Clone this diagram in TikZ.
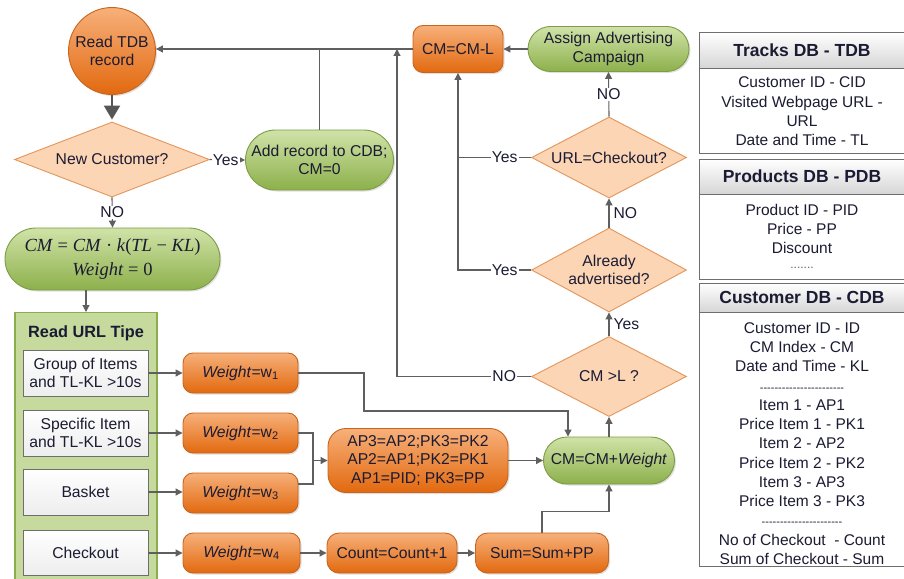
\documentclass[tikz,border=0pt]{standalone}
\usepackage{fontspec}
\setmainfont{Liberation Sans}
\newfontfamily\formulafont{Liberation Serif}
\usetikzlibrary{shapes.geometric,arrows.meta,shadows}

\definecolor{txt}{HTML}{1B1B33}
\definecolor{otop}{HTML}{F7B07A}
\definecolor{obot}{HTML}{E2690F}
\definecolor{oline}{HTML}{C8641C}
\definecolor{gtop}{HTML}{D0E3A8}
\definecolor{gbot}{HTML}{8DB04B}
\definecolor{gline}{HTML}{7C9C45}
\definecolor{dfill}{HTML}{FCD5B5}
\definecolor{dline}{HTML}{E3955A}
\definecolor{wire}{HTML}{5F5F5F}
\definecolor{pane}{HTML}{C6DA9E}
\definecolor{paneline}{HTML}{8AAE4E}
\definecolor{cellline}{HTML}{6E6E6E}
\definecolor{headbot}{HTML}{D6D6D6}

\newcommand\fml{\formulafont\fontsize{18.5}{22}\selectfont}

\tikzset{
  every node/.style={text=txt, font=\fontsize{15.7}{18.5}\selectfont, align=center, inner sep=0pt},
  softshadow/.style={drop shadow={shadow xshift=1.5pt, shadow yshift=-1.5pt, opacity=0.25}},
  proc/.style={draw=oline, line width=0.9pt, top color=otop, bottom color=obot, rounded corners=#1, softshadow},
  proc/.default=10pt,
  term/.style={draw=gline, line width=0.9pt, top color=gtop, bottom color=gbot, rounded corners=#1, softshadow},
  term/.default=22pt,
  decision/.style={diamond, aspect=2, draw=dline, line width=0.9pt, fill=dfill},
  cell/.style={draw=cellline, line width=0.9pt, top color=white, bottom color=black!7},
  tablehead/.style={draw=cellline, line width=0.9pt, top color=white, bottom color=headbot,
                    font=\fontsize{17.5}{21}\selectfont\bfseries},
  tablebody/.style={draw=cellline, line width=0.9pt, fill=white},
  tablerows/.style={font=\fontsize{15.5}{19.25}\selectfont},
  link/.style={draw=wire, line width=1.1pt},
  flow/.style={link, -{Triangle[length=7pt,width=7pt]}},
  bigflow/.style={draw=wire!90!black, line width=2.2pt, -{Triangle[length=14pt,width=16pt]}},
  tag/.style={fill=white, inner sep=1pt},
}

\begin{document}
\begin{tikzpicture}[x=1pt,y=-1pt]
\useasboundingbox (0,0) rectangle (904,578);

% ---------- main loop, left part ----------
\node[proc, circle, minimum size=87pt] (read) at (112,51) {Read TDB\\record};
\node[decision, minimum width=195pt, minimum height=75pt] (newc) at (112,159.5) {New Customer?};
\node[term=30pt, minimum width=148pt, minimum height=60pt] (add) at (319.5,160) {Add record to CDB;\\CM=0};
\node[term=31pt, minimum width=215pt, minimum height=62pt] (form) at (112.5,259)
  {\fml\textit{CM} = \textit{CM} · \textit{k}(\textit{TL} − \textit{KL})\\[5pt]
   \fml\textit{Weight} = 0};

% ---------- URL type panel ----------
\node[draw=paneline, line width=1.1pt, fill=pane, minimum width=142pt, minimum height=285pt, anchor=north] (urlc) at (86,312) {};
\node[font=\fontsize{16.3}{19}\selectfont\bfseries] (tipe) at (86,333) {Read URL Tipe};
\node[cell, minimum width=125pt, minimum height=46pt] (g1) at (85.5,373) {Group of Items\\and TL-KL >10s};
\node[cell, minimum width=125pt, minimum height=46pt] (g2) at (85.5,433) {Specific Item\\and TL-KL >10s};
\node[cell, minimum width=125pt, minimum height=46pt] (g3) at (85.5,492) {Basket};
\node[cell, minimum width=125pt, minimum height=45pt] (g4) at (85.5,553) {Checkout};

% ---------- weights ----------
\node[proc, minimum width=115pt, minimum height=40pt] (w1) at (240.5,373) {\textit{Weight}=w\textsubscript{1}};
\node[proc, minimum width=115pt, minimum height=40pt] (w2) at (240.5,433) {\textit{Weight}=w\textsubscript{2}};
\node[proc, minimum width=115pt, minimum height=40pt] (w3) at (240.5,493) {\textit{Weight}=w\textsubscript{3}};
\node[proc, minimum width=117pt, minimum height=40pt] (w4) at (241.5,553) {\textit{Weight}=w\textsubscript{4}};

\node[proc=18pt, minimum width=180pt, minimum height=64pt] (ap) at (418,460.5) {AP3=AP2;PK3=PK2\\AP2=AP1;PK2=PK1\\AP1=PID; PK3=PP};
\node[term=23.5pt, minimum width=131pt, minimum height=47pt] (cmw) at (609,460.5) {CM=CM+\textit{Weight}};
\node[proc=12pt, minimum width=130pt, minimum height=40pt] (cnt) at (392,553) {Count=Count+1};
\node[proc=12pt, minimum width=133pt, minimum height=40pt] (sum) at (542,553) {Sum=Sum+PP};

% ---------- decisions on the right ----------
\node[decision, minimum width=155pt, minimum height=80pt] (lim) at (609,376.5) {CM >L ?};
\node[decision, minimum width=155pt, minimum height=84pt] (adv) at (609,270) {Already\\advertised?};
\node[decision, minimum width=155pt, minimum height=81pt] (url) at (609,157.5) {URL=Checkout?};
\node[term=22.5pt, minimum width=161pt, minimum height=45pt] (asg) at (608.5,49) {Assign Advertising\\Campaign};
\node[proc, minimum width=90pt, minimum height=47pt] (sub) at (458,49) {CM=CM-L};
\coordinate (up) at (397,49);

% ---------- connectors ----------
\draw[bigflow] (read.south) -- ([yshift=2pt]newc.north);
\draw[flow] (newc.east) -- node[tag,pos=.45]{Yes} (add.west);
\draw[link] (add.north) -- (add.north |- sub.west);
\draw[flow] (sub.west) -- (read.east |- sub.west);
\draw[flow] (newc.south) -- node[tag]{NO} (form.north);
\draw[flow] (urlc.north |- form.south) -- (urlc.north);

\draw[flow] (g1.east) -- (g1.east -| w1.west);
\draw[flow] (g2.east) -- (g2.east -| w2.west);
\draw[flow] (g3.east) -- (g3.east -| w3.west);
\draw[flow] (g4.east) -- (g4.east -| w4.west);

\coordinate (bend1) at (364,411);
\coordinate (into) at ([xshift=-41pt]cmw.north);
\draw[flow] (w1.east) -- (w1.east -| bend1) -- (bend1) -- (bend1 -| into) -- (into);

\coordinate (join) at (313,460.5);
\coordinate (w3out) at ([yshift=9pt]w3.east);
\draw[link] (w2.east) -- (w2.east -| join) -- (join |- w3out) -- (w3out);
\draw[flow] (join) -- (ap.west);
\draw[flow] (ap.east) -- (cmw.west);

\draw[flow] (w4.east) -- (cnt.west);
\draw[flow] (cnt.east) -- (sum.west);
\draw[flow] (sum.north) -- ++(0,-21) -| (cmw.south);
\draw[flow] (cmw.north) -- (lim.south);

\draw[flow] (lim.north) -- node[right=4pt]{Yes} (adv.south);
\draw[flow] (adv.north) -- node[right=4pt]{NO} (url.south);
\draw[flow] (url.north) -- node[tag]{NO} (asg.south);
\draw[flow] (asg.west) -- (sub.east);
\draw[link] (url.west) -- node[tag,pos=.36]{Yes} (url.west -| sub.south);
\draw[flow] (adv.west) -- node[tag,pos=.36]{Yes} (adv.west -| sub.south) -- (sub.south);
\draw[flow] (lim.west) -- node[tag,pos=.2]{NO} (lim.west -| up) -- (up);

% ---------- database tables ----------
\node[tablehead, minimum width=206pt, minimum height=36pt] (tdbh) at (802,50) {Tracks DB - TDB};
\node[tablebody, minimum width=206pt, minimum height=85pt] (tdbb) at (802,110.5) {};
\node[tablerows] (tdbt) at (802,111.5) {Customer ID - CID\\Visited Webpage URL -\\URL\\Date and Time - TL};

\node[tablehead, minimum width=206pt, minimum height=35pt] (pdbh) at (802,176.5) {Products DB - PDB};
\node[tablebody, minimum width=206pt, minimum height=85pt] (pdbb) at (802,236.5) {};
\node[tablerows] (pdbt) at (802,229) {Product ID - PID\\Price - PP\\Discount};
\node[font=\fontsize{12}{14}\selectfont, text=txt!70] (pdbd) at (802,268) {.......};

\node[tablehead, minimum width=206pt, minimum height=29pt] (cdbh) at (802,297.5) {Customer DB - CDB};
\node[tablebody, minimum width=206pt, minimum height=254pt] (cdbb) at (802,439) {};
\node[tablerows] (cdbt) at (802,443.5) {Customer ID - ID\\CM Index - CM\\Date and Time - KL\\
  {\fontsize{11}{12}\selectfont -{}-{}-{}-{}-{}-{}-{}-{}-{}-{}-{}-{}-{}-{}-{}-{}-{}-{}-{}-{}-{}-{}-{}}\\
  Item 1 - AP1\\Price Item 1 - PK1\\Item 2 - AP2\\Price Item 2 - PK2\\Item 3 - AP3\\Price Item 3 - PK3\\
  {\fontsize{11}{12}\selectfont -{}-{}-{}-{}-{}-{}-{}-{}-{}-{}-{}-{}-{}-{}-{}-{}-{}-{}-{}-{}-{}-{}}\\
  No of Checkout\ \ - Count\\Sum of Checkout - Sum};
\end{tikzpicture}
\end{document}
